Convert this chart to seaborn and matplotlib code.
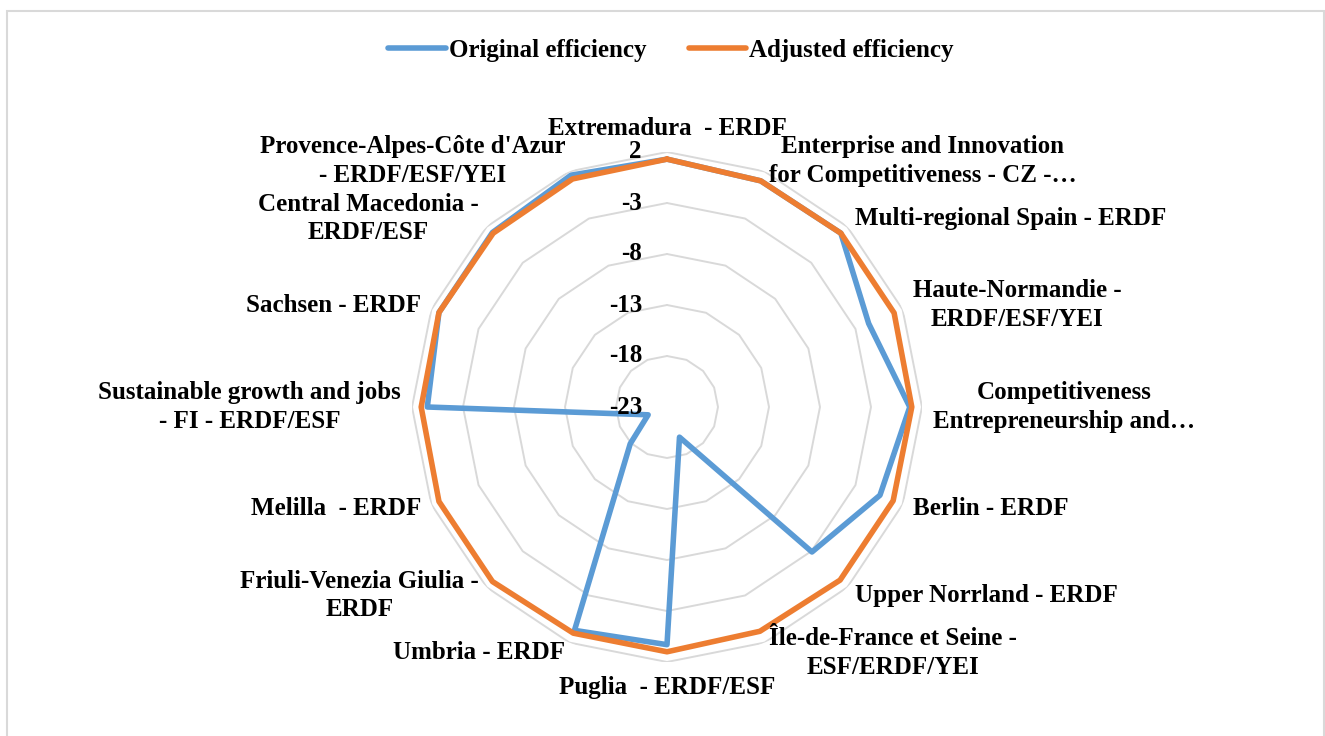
import numpy as np
import pandas as pd
import seaborn as sns
import matplotlib.pyplot as plt
from matplotlib.lines import Line2D
from matplotlib.patches import Rectangle
from matplotlib.transforms import offset_copy

# data
categories = [
    "Extremadura  - ERDF",
    "Enterprise and Innovation\nfor Competitiveness - CZ -\u2026",
    "Multi-regional Spain - ERDF",
    "Haute-Normandie -\nERDF/ESF/YEI",
    "Competitiveness\nEntrepreneurship and\u2026",
    "Berlin - ERDF",
    "Upper Norrland - ERDF",
    "\u00cele-de-France et Seine -\nESF/ERDF/YEI",
    "Puglia  - ERDF/ESF",
    "Umbria - ERDF",
    "Friuli-Venezia Giulia -\nERDF",
    "Melilla  - ERDF",
    "Sustainable growth and jobs\n- FI - ERDF/ESF",
    "Sachsen - ERDF",
    "Central Macedonia -\nERDF/ESF",
    "Provence-Alpes-C\u00f4te d'Azur\n- ERDF/ESF/YEI",
]
original = [1.3, 1.0, 1.1, -1.6, 0.8, -0.4, -2.9, -19.8, 0.3, 0.7, -17.9, -21.0, 0.5, 1.2, 1.2, 1.6]
adjusted = [1.3, 1.0, 1.1, 1.1, 1.0, 1.0, 1.0, 0.8, 1.0, 1.0, 1.2, 1.2, 1.1, 1.2, 1.1, 1.2]
series_names = ["Original efficiency", "Adjusted efficiency"]
r_ticks = [2, -3, -8, -13, -18, -23]
r_min, r_max = -23, 2

colors = {"Original efficiency": "#5B9BD5", "Adjusted efficiency": "#ED7D31"}

sns.set_theme(style="white")
plt.rcParams['font.family'] = ['Liberation Serif', 'DejaVu Serif']
plt.rcParams['font.weight'] = 'bold'
plt.rcParams['text.color'] = 'black'

n = len(categories)
theta = np.arange(n) * 2 * np.pi / n
theta_closed = np.append(theta, theta[0])

rows = []
for name, vals in zip(series_names, [original, adjusted]):
    vals_closed = list(vals) + [vals[0]]
    for t, v in zip(theta_closed, vals_closed):
        rows.append({"theta": t, "value": v, "series": name})
df = pd.DataFrame(rows)

W, H = 1325, 736
fig = plt.figure(figsize=(W / 100, H / 100), dpi=100)
cx, cy, rad = 667, 736 - 407, 255
ax = fig.add_axes([(cx - rad) / W, (cy - rad) / H, 2 * rad / W, 2 * rad / H], projection='polar')
ax.set_theta_zero_location('N')
ax.set_theta_direction(-1)
ax.set_facecolor('none')
ax.grid(False)
ax.spines['polar'].set_visible(False)
ax.set_xticks([])
ax.set_yticks([])

# polygon gridlines like excel radar
for r in r_ticks[:-1]:
    ax.plot(theta_closed, [r] * len(theta_closed), color='#D9D9D9', lw=1.4, zorder=1)

sns.lineplot(data=df, x='theta', y='value', hue='series', hue_order=series_names,
             palette=colors, sort=False, estimator=None, lw=4.0, legend=False,
             solid_joinstyle='round', ax=ax, zorder=3)
ax.set_ylim(r_min, r_max)
ax.set_xlabel('')
ax.set_ylabel('')

# category labels
for t, lab in zip(theta, categories):
    s, c = np.sin(t), np.cos(t)
    ha = 'left' if s > 0.05 else ('right' if s < -0.05 else 'center')
    if c > 0.95:
        va, pad = 'bottom', 1.2
    elif c < -0.95:
        va, pad = 'top', 1.4
    else:
        va, pad = 'center', 1.1
    ax.text(t, r_max + pad, lab, ha=ha, va=va, ma='center', fontsize=18,
            fontweight='bold', color='black', clip_on=False, linespacing=1.3)

# radial tick labels along the top spoke
tick_tr = offset_copy(ax.transData, fig=fig, x=-25, y=0, units='dots')
for r in r_ticks:
    ax.text(0, r, str(r), transform=tick_tr, ha='right', va='center',
            fontsize=18, fontweight='bold', color='black')

handles = [Line2D([], [], color=colors[nm], lw=4.0, solid_capstyle='round') for nm in series_names]
fig.legend(handles, series_names, loc='center', bbox_to_anchor=(671 / W, 1 - 50 / H),
           ncol=2, frameon=False, prop={'size': 18, 'weight': 'bold'}, labelcolor='black',
           handlelength=2.3, handletextpad=0.12, columnspacing=1.7)

fig.patches.append(Rectangle((7 / W, -0.05), (1324 - 7) / W, 1 - 11 / H + 0.05,
                             transform=fig.transFigure, fill=False, ec='#D9D9D9', lw=1.5))

fig.savefig('out.png', dpi=100)
